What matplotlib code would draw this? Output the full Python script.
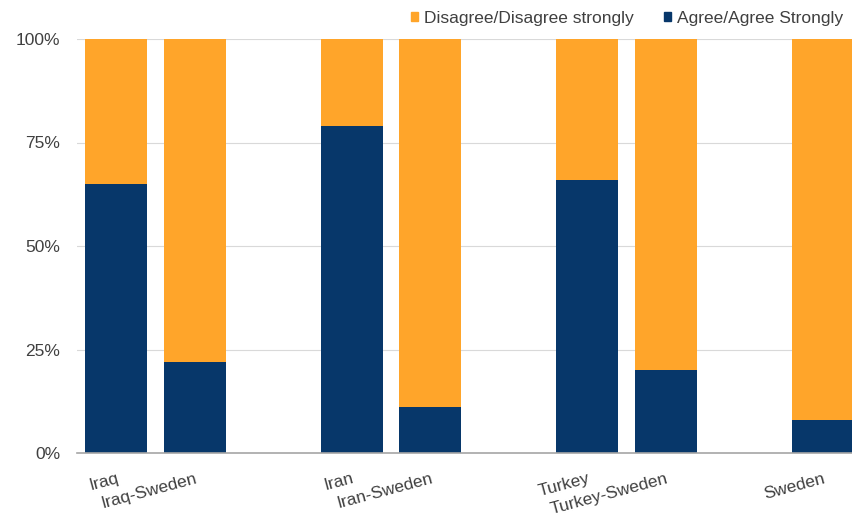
import matplotlib.pyplot as plt
from matplotlib.patches import Patch
from matplotlib.ticker import PercentFormatter
import numpy as np

plt.rcParams['font.family'] = ['Liberation Sans', 'DejaVu Sans']

# survey shares (%)
categories = ['Iraq', 'Iraq-Sweden', 'Iran', 'Iran-Sweden', 'Turkey', 'Turkey-Sweden', 'Sweden']
agree = [65, 22, 79, 11, 66, 20, 8]
disagree = [35, 78, 21, 89, 34, 80, 92]

navy = '#07376A'
orange = '#FFA52A'
txt = '#404040'

# pairs of bars with one empty slot between groups
idx = np.arange(len(categories))
x = idx + idx // 2

fig = plt.figure(figsize=(8.53, 5.16), dpi=100)
ax = fig.add_axes([77 / 853, 63 / 516, 785 / 853, 414 / 516])

ax.bar(x, agree, width=0.79, color=navy, zorder=2)
ax.bar(x, disagree, width=0.79, bottom=agree, color=orange, zorder=2)

ax.set_xlim(-0.5, 9.5)
ax.set_ylim(0, 100)
ax.set_yticks([0, 25, 50, 75, 100])
ax.yaxis.set_major_formatter(PercentFormatter(decimals=0))
ax.grid(axis='y', color='#D9D9D9', lw=0.8, zorder=0)

ax.set_xticks(x)
ax.set_xticklabels(categories, rotation=15, ha='right', va='top', rotation_mode='anchor')
ax.tick_params(axis='x', length=0, pad=13, labelsize=12.5, labelcolor=txt)
ax.tick_params(axis='y', length=0, pad=12, labelsize=12.5, labelcolor=txt)

for s in ['top', 'right', 'left']:
    ax.spines[s].set_visible(False)
ax.spines['bottom'].set_color('#A6A6A6')
ax.spines['bottom'].set_linewidth(1.2)
ax.spines['bottom'].set_zorder(3)

handles = [Patch(color=orange, label='Disagree/Disagree strongly'),
           Patch(color=navy, label='Agree/Agree Strongly')]
fig.legend(handles=handles, loc='center right', bbox_to_anchor=(843 / 853, 1 - 18 / 516),
           ncol=2, frameon=False, fontsize=12.5, handlelength=0.42, handleheight=0.42,
           handletextpad=0.35, columnspacing=1.7, borderpad=0, borderaxespad=0,
           labelcolor=txt)

fig.savefig('out.png', dpi=100)
